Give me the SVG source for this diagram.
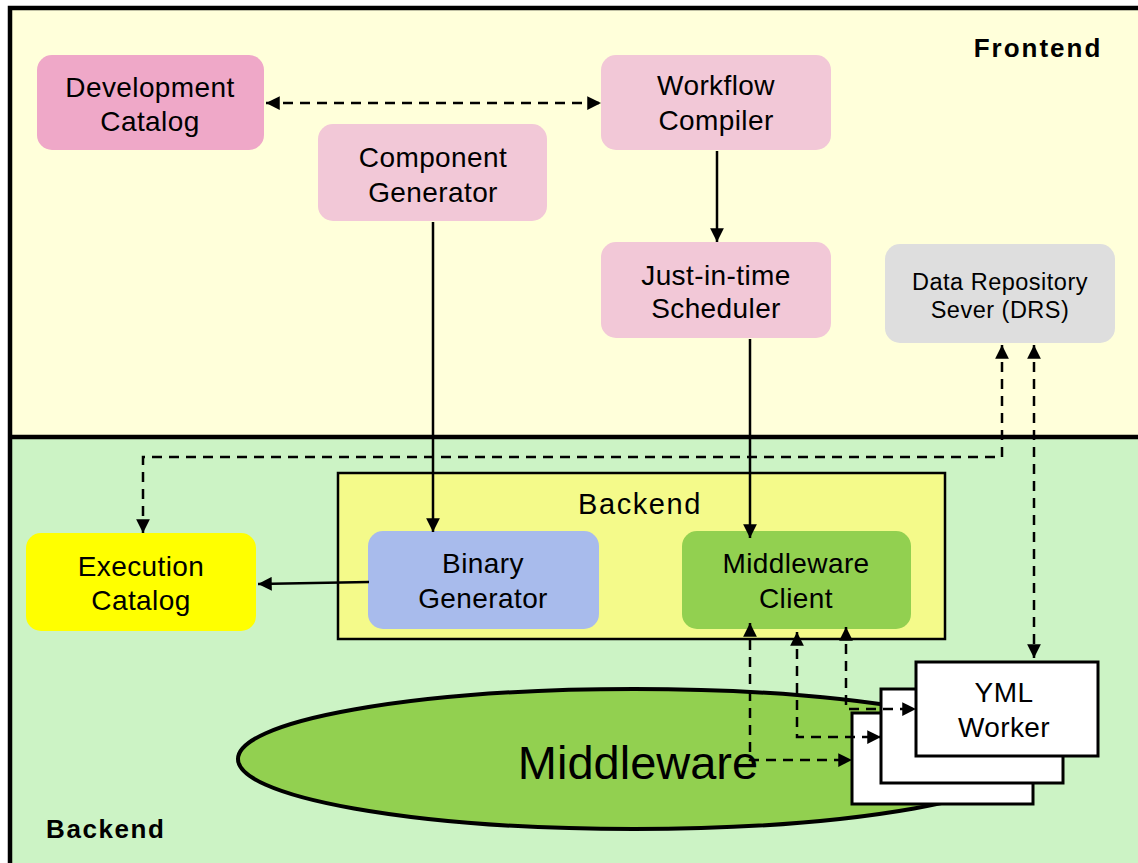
<svg xmlns="http://www.w3.org/2000/svg" width="1138" height="863" viewBox="0 0 1138 863">
<style>
  .t { font-family: "Liberation Sans", Arial, sans-serif; font-size: 28px; fill: #000; text-anchor: middle; letter-spacing: 0.4px; }
  .node { stroke: none; }
  .solid { fill: none; stroke: #000; stroke-width: 2.5; }
  .dash { fill: none; stroke: #000; stroke-width: 2.5; stroke-dasharray: 10 7; }
  .wk { fill: #fff; stroke: #000; stroke-width: 3; }
</style>
<defs>
  <marker id="ah" viewBox="0 0 10 10" refX="10" refY="5" markerWidth="5.5" markerHeight="5.5" orient="auto-start-reverse" markerUnits="strokeWidth">
    <path d="M0,0 L10,5 L0,10 z" fill="#000"/>
  </marker>
</defs>
<!-- regions -->
<g id="frontend-region">
  <rect x="10" y="8" width="1140" height="429" fill="#FFFFDA"/>
</g>
<g id="backend-region">
  <rect x="10" y="437" width="1140" height="440" fill="#CCF3C5"/>
</g>
<rect x="10" y="8" width="1140" height="870" fill="none" stroke="#000" stroke-width="4.5"/>
<line x1="10" y1="437" x2="1140" y2="437" stroke="#000" stroke-width="4.5"/>
<text x="1038" y="57" class="t" style="font-weight:bold;font-size:26px;letter-spacing:2px">Frontend</text>
<text x="46" y="838" class="t" style="font-weight:bold;font-size:26px;letter-spacing:1.6px;text-anchor:start">Backend</text>

<g id="backend-box">
  <rect x="338" y="473" width="607" height="166" fill="#F4FA8A" stroke="#000" stroke-width="2.5"/>
  <text x="640" y="514" class="t" style="font-size:29px;letter-spacing:1.6px">Backend</text>
</g>

<g id="dev-catalog">
  <rect x="37" y="55" width="227" height="95" rx="15" fill="#EFA8C8"/>
  <text x="150" y="97" class="t">Development</text>
  <text x="150" y="131" class="t">Catalog</text>
</g>
<g id="workflow-compiler">
  <rect x="601" y="55" width="230" height="95" rx="15" fill="#F2C8D7"/>
  <text x="716" y="95" class="t">Workflow</text>
  <text x="716" y="130" class="t">Compiler</text>
</g>
<g id="component-generator">
  <rect x="318" y="124" width="229" height="97" rx="15" fill="#F2C8D7"/>
  <text x="433" y="167" class="t">Component</text>
  <text x="433" y="202" class="t">Generator</text>
</g>
<g id="scheduler">
  <rect x="601" y="242" width="230" height="96" rx="15" fill="#F2C8D7"/>
  <text x="716" y="285" class="t">Just-in-time</text>
  <text x="716" y="318" class="t">Scheduler</text>
</g>
<g id="drs">
  <rect x="885" y="244" width="230" height="99" rx="15" fill="#DEDEDE"/>
  <text x="1000" y="290" class="t" style="font-size:23.5px;letter-spacing:0.5px">Data Repository</text>
  <text x="1000" y="318" class="t" style="font-size:23.5px;letter-spacing:0.5px">Sever (DRS)</text>
</g>
<g id="execution-catalog">
  <rect x="26" y="533" width="230" height="98" rx="15" fill="#FFFF00"/>
  <text x="141" y="576" class="t">Execution</text>
  <text x="141" y="610" class="t">Catalog</text>
</g>
<g id="binary-generator">
  <rect x="368" y="531" width="231" height="98" rx="15" fill="#A8BBEC"/>
  <text x="483" y="573" class="t">Binary</text>
  <text x="483" y="608" class="t">Generator</text>
</g>
<g id="middleware-client">
  <rect x="682" y="531" width="229" height="98" rx="15" fill="#92D050"/>
  <text x="796" y="573" class="t">Middleware</text>
  <text x="796" y="608" class="t">Client</text>
</g>
<g id="middleware">
  <ellipse cx="634" cy="759" rx="396" ry="70" fill="#92D050" stroke="#000" stroke-width="4"/>
  <text x="638" y="779" class="t" style="font-size:47px;letter-spacing:0">Middleware</text>
</g>
<g id="yml-workers">
  <rect x="852" y="713" width="181" height="91" class="wk"/>
  <rect x="881" y="689" width="182" height="94" class="wk"/>
  <rect x="916" y="662" width="182" height="94" class="wk"/>
  <text x="1004" y="702" class="t">YML</text>
  <text x="1004" y="737" class="t">Worker</text>
</g>

<g id="connectors">
  <line x1="266" y1="103" x2="601" y2="103" class="dash" marker-start="url(#ah)" marker-end="url(#ah)"/>
  <line x1="717" y1="151" x2="717" y2="242" class="solid" marker-end="url(#ah)"/>
  <line x1="433" y1="222" x2="433" y2="532" class="solid" marker-end="url(#ah)"/>
  <line x1="750" y1="339" x2="750" y2="538" class="solid" marker-end="url(#ah)"/>
  <line x1="369" y1="582" x2="258" y2="584" class="solid" marker-end="url(#ah)"/>
  <polyline points="1002,345 1002,457 143,457 143,533" class="dash" marker-start="url(#ah)" marker-end="url(#ah)"/>
  <line x1="1034" y1="345" x2="1034" y2="658" class="dash" marker-start="url(#ah)" marker-end="url(#ah)"/>
  <polyline points="750,623 750,760 852,760" class="dash" marker-start="url(#ah)" marker-end="url(#ah)"/>
  <polyline points="797,632 797,737 881,737" class="dash" marker-start="url(#ah)" marker-end="url(#ah)"/>
  <polyline points="846,627 846,709 916,709" class="dash" marker-start="url(#ah)" marker-end="url(#ah)"/>
</g>
</svg>
